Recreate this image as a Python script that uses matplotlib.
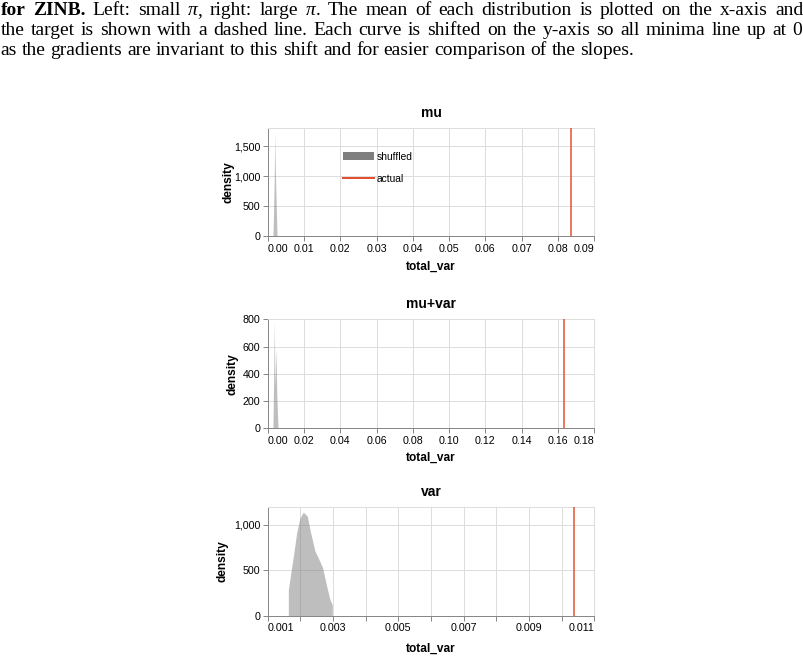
import matplotlib
matplotlib.use("Agg")
import matplotlib.pyplot as plt
from matplotlib.ticker import FuncFormatter
from matplotlib.patches import Patch
from matplotlib.lines import Line2D

# ---------------- data ----------------
titles = ["mu", "mu+var", "var"]

mu_x = [0.00146, 0.0018, 0.00193, 0.0021, 0.0024, 0.00256]
mu_y = [0, 900, 1720, 1100, 400, 0]
mu_actual = 0.0836

mv_x = [0.0029, 0.0034, 0.00364, 0.0040, 0.00457, 0.0050, 0.00568]
mv_y = [0, 500, 787, 300, 587, 250, 0]
mv_actual = 0.1635

var_x = [0.001632, 0.001785, 0.001887, 0.001989, 0.002091, 0.002213, 0.002316,
         0.002448, 0.00255, 0.002683, 0.002806, 0.002908, 0.002979]
var_y = [287, 654, 912, 1077, 1140, 1096, 912, 710, 636, 526, 324, 176, 121]
var_actual = 0.01038

mu_xticks = [0.00, 0.01, 0.02, 0.03, 0.04, 0.05, 0.06, 0.07, 0.08, 0.09]
mv_xticks = [0.00, 0.02, 0.04, 0.06, 0.08, 0.10, 0.12, 0.14, 0.16, 0.18]
var_xticks = [0.001, 0.002, 0.003, 0.004, 0.005, 0.006, 0.007, 0.008, 0.009, 0.010, 0.011]
mu_yticks = [0, 500, 1000, 1500]
mv_yticks = [0, 200, 400, 600, 800]
var_yticks = [0, 500, 1000]

legend_labels = ["shuffled", "actual"]

caption_lines = [
    [[("for", "bold", "normal")], [("ZINB.", "bold", "normal")], [("Left:", "normal", "normal")],
     [("small", "normal", "normal")], [("π", "normal", "italic"), (",", "normal", "normal")],
     [("right:", "normal", "normal")], [("large", "normal", "normal")],
     [("π", "normal", "italic"), (".", "normal", "normal")]]
    + [[(w, "normal", "normal")] for w in
       "The mean of each distribution is plotted on the x-axis and".split()],
    [[(w, "normal", "normal")] for w in
     "the target is shown with a dashed line. Each curve is shifted on the y-axis so all minima line up at 0".split()],
    [[(w, "normal", "normal")] for w in
     "as the gradients are invariant to this shift and for easier comparison of the slopes.".split()],
]

# ---------------- styling ----------------
W, H = 804, 657
RED = "#e4502f"
AREA = "#7f7f7f"
PX = 0.72  # one pixel in points at 100 dpi

plt.rcParams["font.family"] = ["Liberation Sans", "DejaVu Sans"]

fig = plt.figure(figsize=(W / 100, H / 100), dpi=100)


def add_ax(left, top, right, bottom):
    return fig.add_axes([left / W, 1 - bottom / H, (right - left) / W, (bottom - top) / H])


ax1 = add_ax(267.7, 128.0, 594.2, 236.0)
ax2 = add_ax(267.7, 319.3, 594.2, 428.3)
ax3 = add_ax(267.7, 506.7, 594.2, 615.7)

panels = [
    (ax1, mu_x, mu_y, mu_actual, mu_xticks, mu_yticks, (0, 0.09), (0, 1800), "{:.2f}", None, -25 / 108, 234.5),
    (ax2, mv_x, mv_y, mv_actual, mv_xticks, mv_yticks, (0, 0.18), (0, 800), "{:.2f}", None, -23.5 / 109, 238.5),
    (ax3, var_x, var_y, var_actual, var_xticks, var_yticks, (0.001, 0.011), (0, 1200), "{:.3f}", 2, -27 / 109, 228.5),
]

for i, (ax, xs, ys, act, xt, yt, xl, yl, fmt, every, xlab_y, ylab_right) in enumerate(panels):
    ax.fill_between(xs, 0, ys, color=AREA, alpha=0.5, linewidth=0, zorder=2)
    ax.axvline(act, color=RED, lw=1.5 * PX, zorder=3)
    ax.set_xlim(*xl)
    ax.set_ylim(*yl)
    ax.set_xticks(xt)
    labels = []
    for k, v in enumerate(xt):
        if every is not None and k % every != 0:
            labels.append("")
        else:
            labels.append(fmt.format(v))
    ax.set_xticklabels(labels)
    ax.set_yticks(yt)
    ax.yaxis.set_major_formatter(FuncFormatter(lambda v, p: f"{v:,.0f}"))
    for s in ["left", "bottom"]:
        ax.spines[s].set_color("#888888")
        ax.spines[s].set_linewidth(PX)
    for s in ["top", "right"]:
        ax.spines[s].set_color("#dddddd")
        ax.spines[s].set_linewidth(PX)
    ax.grid(True, color="#dddddd", lw=PX, zorder=0)
    ax.set_axisbelow(True)
    ax.tick_params(length=5 * PX, width=PX, color="#888888", labelsize=7.7,
                   labelcolor="#000000", pad=1.8)
    xlabels = ax.get_xticklabels()
    xlabels[0].set_ha("left")
    xlabels[-1].set_ha("right")
    ax.set_title(titles[i], fontsize=10, fontweight="bold", pad=8)
    ax.set_xlabel("total_var", fontsize=8.6, fontweight="bold")
    ax.set_ylabel("density", fontsize=8.6, fontweight="bold")
    ax.xaxis.set_label_coords(0.5, xlab_y)
    ax.yaxis.set_label_coords((ylab_right - 267.7) / 326.5, 0.5)

handles = [Patch(facecolor=AREA, edgecolor="none"), Line2D([], [], color=RED, lw=2 * PX)]
ax1.legend(handles, legend_labels, loc="upper left", bbox_to_anchor=(343 / W, 1 - 151.5 / H),
           bbox_transform=fig.transFigure, frameon=False, borderpad=0, borderaxespad=0,
           handlelength=3.0, handleheight=0.9, handletextpad=0.3, labelspacing=1.25,
           fontsize=7.4)

# ---------------- caption (justified text) ----------------
CAP_FONT = "Liberation Serif"
CAP_SIZE = 14.0
renderer = fig.canvas.get_renderer()


def measure(s, weight="normal", style="normal"):
    t = fig.text(0, 0, s, family=CAP_FONT, size=CAP_SIZE, weight=weight, style=style)
    w = t.get_window_extent(renderer).width
    t.remove()
    return w


space_w = measure("a a") - measure("aa")


def draw_line(words, baseline_px, x0, x1, justify):
    widths = []
    for word in words:
        widths.append([measure(s, wt, st) for (s, wt, st) in word])
    totals = [sum(w) for w in widths]
    if justify and len(words) > 1:
        gap = (x1 - x0 - sum(totals)) / (len(words) - 1)
    else:
        gap = space_w
    x = x0
    for word, ws in zip(words, widths):
        for (s, wt, st), w in zip(word, ws):
            fig.text(x / W, 1 - baseline_px / H, s, family=CAP_FONT, size=CAP_SIZE,
                     weight=wt, style=st, va="baseline", ha="left")
            x += w
        x += gap


draw_line(caption_lines[0], 14.8, 0.5, 803.5, True)
draw_line(caption_lines[1], 35.0, 0.5, 802.0, True)
draw_line(caption_lines[2], 55.2, 0.5, 0, False)

fig.savefig("out.png", dpi=100)
